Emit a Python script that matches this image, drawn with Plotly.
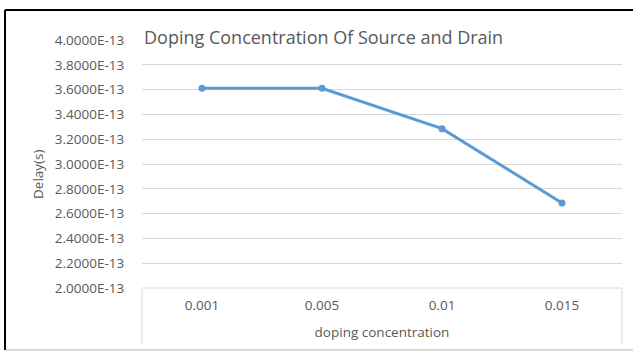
import plotly.graph_objects as go

categories = ["0.001", "0.005", "0.01", "0.015"]
delay = [3.61e-13, 3.61e-13, 3.285e-13, 2.685e-13]
ytick_vals = [2.0e-13, 2.2e-13, 2.4e-13, 2.6e-13, 2.8e-13, 3.0e-13, 3.2e-13, 3.4e-13, 3.6e-13, 3.8e-13, 4.0e-13]
ytick_text = ["2.0000E-13", "2.2000E-13", "2.4000E-13", "2.6000E-13", "2.8000E-13", "3.0000E-13",
              "3.2000E-13", "3.4000E-13", "3.6000E-13", "3.8000E-13", "4.0000E-13"]

W, H = 633, 352
L, R, T, B = 142, 11, 40, 64
pw, ph = W - L - R, H - T - B

def px(x):
    return (x - L) / pw

def py(y):
    return (H - B - y) / ph

FONT = "Open Sans"
GRAY = "#595959"
FS = 13.5

fig = go.Figure()
fig.add_trace(go.Scatter(
    x=categories, y=delay, mode="lines+markers",
    line=dict(color="#5b9bd5", width=3),
    marker=dict(color="#5b9bd5", size=7),
    showlegend=False,
))

fig.update_layout(
    width=W, height=H,
    margin=dict(l=L, r=R, t=T, b=B),
    paper_bgcolor="white", plot_bgcolor="white",
    font=dict(family=FONT, color=GRAY, size=FS),
    xaxis=dict(
        type="category", showgrid=False, zeroline=False,
        showline=False,
        ticks="outside", ticklen=5, tickcolor="rgba(0,0,0,0)",
        tickfont=dict(size=FS, color=GRAY),
        title=dict(text="doping concentration", font=dict(size=FS, color=GRAY), standoff=14),
        range=[-0.5, 3.5],
    ),
    yaxis=dict(
        range=[2.0e-13, 4.0e-13],
        tickvals=ytick_vals, ticktext=ytick_text,
        showgrid=True, gridcolor="#d9d9d9", gridwidth=1,
        zeroline=False, showline=False,
        ticks="outside", ticklen=14, tickcolor="rgba(0,0,0,0)",
        tickfont=dict(size=FS, color=GRAY),
    ),
    shapes=[
        dict(type="line", xref="paper", yref="paper", x0=px(5), x1=px(640), y0=py(10), y1=py(10),
             line=dict(color="black", width=2)),
        dict(type="line", xref="paper", yref="paper", x0=px(5), x1=px(5), y0=py(10), y1=py(350),
             line=dict(color="black", width=2)),
        dict(type="line", xref="paper", yref="paper", x0=px(6), x1=px(640), y0=py(350), y1=py(350),
             line=dict(color="#d9d9d9", width=2)),
        dict(type="line", xref="paper", yref="paper", x0=0, x1=1, y0=0, y1=0,
             line=dict(color="#d9d9d9", width=1)),
        dict(type="line", xref="paper", yref="paper", x0=0, x1=0, y0=0, y1=py(344),
             line=dict(color="#d9d9d9", width=1)),
        dict(type="line", xref="paper", yref="paper", x0=1, x1=1, y0=0, y1=py(344),
             line=dict(color="#d9d9d9", width=1)),
    ],
    annotations=[
        dict(text="Doping Concentration Of Source and Drain", xref="paper", yref="paper",
             x=0, y=py(37), xanchor="left", yanchor="middle", showarrow=False,
             font=dict(size=18, color=GRAY, family=FONT), bgcolor="white"),
        dict(text="Delay(s)", xref="paper", yref="paper", x=px(38), y=py(175),
             xanchor="center", yanchor="middle", textangle=-90, showarrow=False,
             font=dict(size=FS, color=GRAY, family=FONT)),
    ],
)

fig.write_html("out.html", config={"displayModeBar": False},
               post_script="document.body.style.margin='0px';")
